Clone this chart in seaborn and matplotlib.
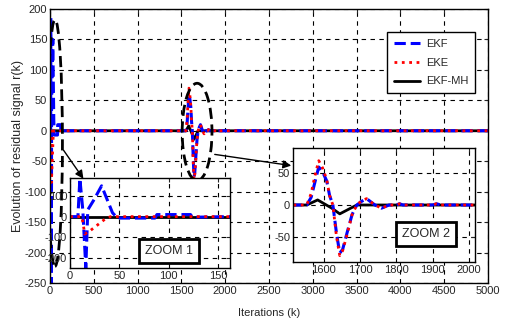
import numpy as np
import pandas as pd
import seaborn as sns
import matplotlib.pyplot as plt
from matplotlib.patches import Ellipse

sns.set_style('white')
plt.rcParams['font.family'] = ['Liberation Sans Narrow', 'Liberation Sans', 'DejaVu Sans']
plt.rcParams['axes.unicode_minus'] = False

# EKF residual
k_ekf = [0, 8, 10, 13, 16, 18, 24, 32, 43, 48, 86, 88, 122, 124, 160,
         1553, 1565, 1575, 1586, 1597, 1608, 1616, 1625, 1635, 1644, 1652, 1665, 1678, 1691,
         1705, 1718, 1741, 1759, 1780, 1800, 1809, 1818, 1900, 1911, 1922, 5000]
r_ekf = [0, 0, 185, 30, -250, 33, 80, 150, 19, -7, -7, 10, 10, -3, 0,
         0, 12, 35, 60, 52, 38, 15, 0, -45, -76, -70, -42, -15, 0,
         6, 10, 0, -5, 0, 0, 2, 0, 0, 2, 0, 0]

# EKE residual
k_eke = [0, 10, 12, 15, 20, 28, 36, 41, 160,
         1553, 1565, 1575, 1586, 1597, 1608, 1616, 1625, 1635, 1644, 1652, 1665, 1678, 1691,
         1705, 1718, 1741, 1759, 1780, 1800, 1809, 1818, 1900, 1911, 1922, 5000]
r_eke = [0, 0, 0, -85, -70, -40, -10, 0, 0,
         0, 18, 45, 70, 58, 40, 15, 0, -50, -80, -72, -45, -15, 0,
         7, 10, 0, -5, 0, 0, 2, 0, 0, 2, 0, 0]

# EKF-MH residual
k_mh = [0, 1553, 1583, 1622, 1644, 1691, 5000]
r_mh = [0, 0, 8, -5, -14, 0, 0]

W, H = 506, 322
fig = plt.figure(figsize=(W / 100, H / 100), dpi=100)


def px_axes(l, t, r, b):
    return fig.add_axes([l / W, 1 - b / H, (r - l) / W, (b - t) / H])


def draw(ax, lw_scale=1.0):
    sns.lineplot(x=k_ekf, y=r_ekf, ax=ax, color='#0000ff', linestyle='--', lw=2.2 * lw_scale,
                 estimator=None, sort=False, label='EKF')
    sns.lineplot(x=k_eke, y=r_eke, ax=ax, color='#ff0000', linestyle=':', lw=2.0 * lw_scale,
                 estimator=None, sort=False, label='EKE')
    sns.lineplot(x=k_mh, y=r_mh, ax=ax, color='black', linestyle='-', lw=2.0 * lw_scale,
                 estimator=None, sort=False, label='EKF-MH', zorder=1)


def style(ax, fs=8):
    ax.grid(True, color='black', linestyle=(0, (4, 4)), lw=0.8)
    ax.tick_params(direction='in', top=True, right=True, labelsize=fs, length=3, pad=2)
    for s in ax.spines.values():
        s.set_color('black')
        s.set_linewidth(1)


# main axes
ax = px_axes(50, 9, 488, 283)
draw(ax)
ax.set_xlim(0, 5000)
ax.set_ylim(-250, 200)
ax.set_xticks(np.arange(0, 5001, 500))
ax.set_yticks(np.arange(-250, 201, 50))
style(ax)
ax.set_xlabel('Iterations (k)', fontsize=8, labelpad=9)
ax.set_ylabel('Evolution of residual signal r(k)', fontsize=9, labelpad=1)
leg = ax.legend(loc='upper left', bbox_to_anchor=(387 / W, 1 - 32 / H), bbox_transform=fig.transFigure,
                fontsize=8, frameon=True, fancybox=False, framealpha=1, edgecolor='black',
                handlelength=2.4, handletextpad=0.5, borderpad=0.6, labelspacing=0.8, borderaxespad=0)
leg.get_frame().set_linewidth(1)

ax.add_patch(Ellipse((57, -20), 170, 405, fill=False, ec='black', lw=2, ls=(0, (4, 2)), zorder=5))
ax.add_patch(Ellipse((1679, -2), 340, 160, fill=False, ec='black', lw=2, ls=(0, (4, 2)), zorder=5))

# inset zoom 1
ax1 = px_axes(70, 178, 230, 268)
ax1.set_facecolor('white')
draw(ax1)
ax1.set_xlim(0, 162)
ax1.set_ylim(-250, 188)
ax1.set_xticks([0, 50, 100, 150])
ax1.set_yticks([-200, -100, 0, 100])
style(ax1)
ax1.get_legend().remove()
ax1.set_xlabel('')
ax1.set_ylabel('')
ax1.text(0.62, 0.19, 'ZOOM 1', transform=ax1.transAxes, ha='center', va='center', fontsize=9,
         bbox=dict(boxstyle='square,pad=0.5', fc='white', ec='black', lw=2))

# inset zoom 2
ax2 = px_axes(293, 148, 475, 262)
ax2.set_facecolor('white')
draw(ax2)
ax2.set_xlim(1515, 2017)
ax2.set_ylim(-90, 90)
ax2.set_xticks([1600, 1700, 1800, 1900, 2000])
ax2.set_yticks([-50, 0, 50])
style(ax2)
ax2.get_legend().remove()
ax2.set_xlabel('')
ax2.set_ylabel('')
ax2.text(0.73, 0.245, 'ZOOM 2', transform=ax2.transAxes, ha='center', va='center', fontsize=9,
         bbox=dict(boxstyle='square,pad=0.5', fc='white', ec='black', lw=2))

# arrows
arrow = dict(arrowstyle='-|>', color='black', lw=1, mutation_scale=12)
fig.add_artist(plt.Annotation('', xy=(85, H - 181), xytext=(62, H - 148),
                              xycoords='figure pixels', textcoords='figure pixels',
                              arrowprops=arrow, zorder=10))
fig.add_artist(plt.Annotation('', xy=(294, H - 166), xytext=(212, H - 154),
                              xycoords='figure pixels', textcoords='figure pixels',
                              arrowprops=arrow, zorder=10))

fig.savefig('out.png', dpi=100)
